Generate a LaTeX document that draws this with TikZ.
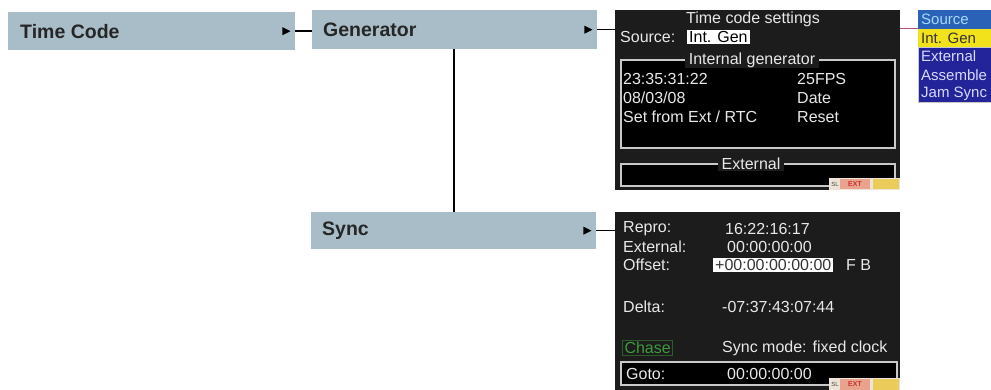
\documentclass[tikz,border=0pt]{standalone}
\usepackage{fontspec}
\setmainfont{Liberation Sans}
\definecolor{menublue}{HTML}{A9BDC8}
\definecolor{panelbg}{HTML}{1C1C1C}
\definecolor{frameline}{HTML}{C8C8C8}
\definecolor{ptextc}{HTML}{E8E8E8}
\definecolor{srcblue}{HTML}{2A62B8}
\definecolor{srctext}{HTML}{A8D8FF}
\definecolor{listblue}{HTML}{23239A}
\definecolor{listyellow}{HTML}{F2E21C}
\definecolor{chasegreen}{HTML}{3E9A3E}
\definecolor{chaseframe}{HTML}{2C5A2C}
\definecolor{pinkline}{HTML}{B8507A}
\definecolor{barbg}{HTML}{EDE3D6}
\definecolor{barred}{HTML}{E9A28E}
\definecolor{baryel}{HTML}{EBCB5A}
\begin{document}
\begin{tikzpicture}[x=1pt,y=-1pt,
  menubox/.style={fill=menublue, draw=none, anchor=north west, inner sep=0pt},
  menulabel/.style={anchor=west, inner sep=0pt, font=\fontsize{19.5}{22}\selectfont\bfseries, text=black!85},
  conn/.style={draw=black, line width=1.6pt},
  panel/.style={fill=panelbg, draw=none, anchor=north west, inner sep=0pt},
  frame/.style={draw=frameline, line width=1.2pt, fill=black},
  ptext/.style={inner sep=0pt, font=\fontsize{16}{18}\selectfont, text=ptextc},
  ftitle/.style={ptext, fill=panelbg, inner xsep=4pt, inner ysep=1pt},
  listrow/.style={anchor=north west, minimum width=80pt, minimum height=18.5pt, inner sep=0pt, draw=none},
  listtext/.style={anchor=west, inner sep=0pt, font=\fontsize{15}{18}\selectfont},
]
\useasboundingbox (0,0) rectangle (991,390);
\clip (0,0) rectangle (991,390);
\fill[white] (0,0) rectangle (991,390);

% menu boxes
\node[menubox, minimum width=287pt, minimum height=38pt] (tc) at (8,12) {};
\node[menulabel] (tcl) at ([xshift=12pt]tc.west) {Time Code};
\node[menubox, minimum width=285pt, minimum height=39pt] (gen) at (312,10) {};
\node[menulabel] (genl) at ([xshift=11pt]gen.west) {Generator};
\node[menubox, minimum width=285pt, minimum height=37pt] (sync) at (311,212) {};
\node[menulabel] (syncl) at ([xshift=11pt]sync.west) {Sync};

% small triangles
\foreach \b in {tc,gen,sync}{
  \fill[black] ([xshift=-13pt,yshift=4pt]\b.east) -- ++(8,4) -- ++(-8,4) -- cycle;
}

% panels
\node[panel, minimum width=285pt, minimum height=180pt] (p1) at (615,10) {};
\node[panel, minimum width=285pt, minimum height=180pt] (p2) at (615,212) {};

% connectors
\coordinate (genin) at (gen.west |- tc.east);
\draw[conn] (tc.east) -- (genin);
\coordinate (p1in) at (p1.west |- gen.east);
\draw[conn] (gen.east) -- (p1in);
\coordinate (p2in) at (p2.west |- sync.east);
\draw[conn] (sync.east) -- (p2in);
\coordinate (gdown) at (454,49);
\coordinate (sup) at (454,212);
\draw[conn] (gdown) -- (sup);

% panel 1 contents
\node[ptext] (t1) at (753,19) {Time code settings};
\node[ptext, anchor=west] (src) at (620,37) {Source:};
\node[ptext, anchor=west, fill=white, text=black, inner xsep=2pt, inner ysep=1.5pt] (srcv) at (687,37) {Int. Gen};
\draw[frame] (621,60) rectangle (895,148);
\node[ftitle] (igt) at (752,60) {Internal generator};
\node[ptext, anchor=west] (r1a) at (623,79) {23:35:31:22};
\node[ptext, anchor=west] (r1b) at (797,79) {25FPS};
\node[ptext, anchor=west] (r2a) at (623,98) {08/03/08};
\node[ptext, anchor=west] (r2b) at (797,98) {Date};
\node[ptext, anchor=west] (r3a) at (623,117) {Set from Ext / RTC};
\node[ptext, anchor=west] (r3b) at (797,117) {Reset};
\draw[frame] (621,164) rectangle (895,186);
\node[ftitle] (ext) at (751,164) {External};

% status bar 1
\fill[barbg] (829,178) rectangle (900,190);
\fill[barred] (840,179) rectangle (870,189);
\fill[baryel] (873,179) rectangle (899,189);
\node[inner sep=0pt, font=\fontsize{6}{7}\selectfont, text=black!70] (sl1) at (835,184) {SL};
\node[inner sep=0pt, font=\fontsize{7}{8}\selectfont, text=red!75!black] (ex1) at (855,184) {EXT};

% pink link and dropdown list
\node[listrow, fill=srcblue] (ls) at (918,10) {};
\node[listrow, fill=listyellow] (lg) at (918,28.5) {};
\node[listrow, fill=listblue] (le) at (918,47) {};
\node[listrow, fill=listblue] (la) at (918,65.5) {};
\node[listrow, fill=listblue] (lj) at (918,84) {};
\draw[frameline, line width=0.8pt] (918,47) rectangle (1000,102.5);
\node[listtext, text=srctext] at ([xshift=3pt]ls.west) {Source};
\node[listtext, text=black!80] at ([xshift=3pt]lg.west) {Int. Gen};
\node[listtext, text=white!85!blue] at ([xshift=3pt]le.west) {External};
\node[listtext, text=white!85!blue] at ([xshift=3pt]la.west) {Assemble};
\node[listtext, text=white!85!blue] at ([xshift=3pt]lj.west) {Jam Sync};
\coordinate (p1out) at (p1.east |- ls.south west);
\draw[pinkline, line width=1.2pt] (p1out) -- (ls.south west);

% panel 2 contents
\node[ptext, anchor=west] (rp) at (623,229) {Repro:};
\node[ptext, anchor=west] (rpv) at (725,229) {16:22:16:17};
\node[ptext, anchor=west] (ex) at (623,247) {External:};
\node[ptext, anchor=west] (exv) at (727,247) {00:00:00:00};
\node[ptext, anchor=west] (of) at (623,265) {Offset:};
\node[ptext, anchor=west, fill=white, text=black!80, inner xsep=2pt, inner ysep=1.5pt] (ofv) at (713,265) {+00:00:00:00:00};
\node[ptext, anchor=west] (fb) at (846,265) {F B};
\node[ptext, anchor=west] (dl) at (623,307) {Delta:};
\node[ptext, anchor=west] (dlv) at (722,307) {-07:37:43:07:44};
\node[ptext, anchor=west, text=chasegreen, draw=chaseframe, line width=1pt, inner xsep=2pt, inner ysep=2pt] (ch) at (622,348) {Chase};
\node[ptext, anchor=west] (sm) at (722,348) {Sync mode: fixed clock};
\draw[frame] (621,362) rectangle (897,385);
\node[ptext, anchor=west] (gt) at (626,374) {Goto:};
\node[ptext, anchor=west] (gtv) at (727,374) {00:00:00:00};

% status bar 2
\fill[barbg] (829,378) rectangle (900,390);
\fill[barred] (840,379) rectangle (870,390);
\fill[baryel] (873,379) rectangle (899,390);
\node[inner sep=0pt, font=\fontsize{6}{7}\selectfont, text=black!70] (sl2) at (835,384) {SL};
\node[inner sep=0pt, font=\fontsize{7}{8}\selectfont, text=red!75!black] (ex2) at (855,384) {EXT};
\end{tikzpicture}
\end{document}
